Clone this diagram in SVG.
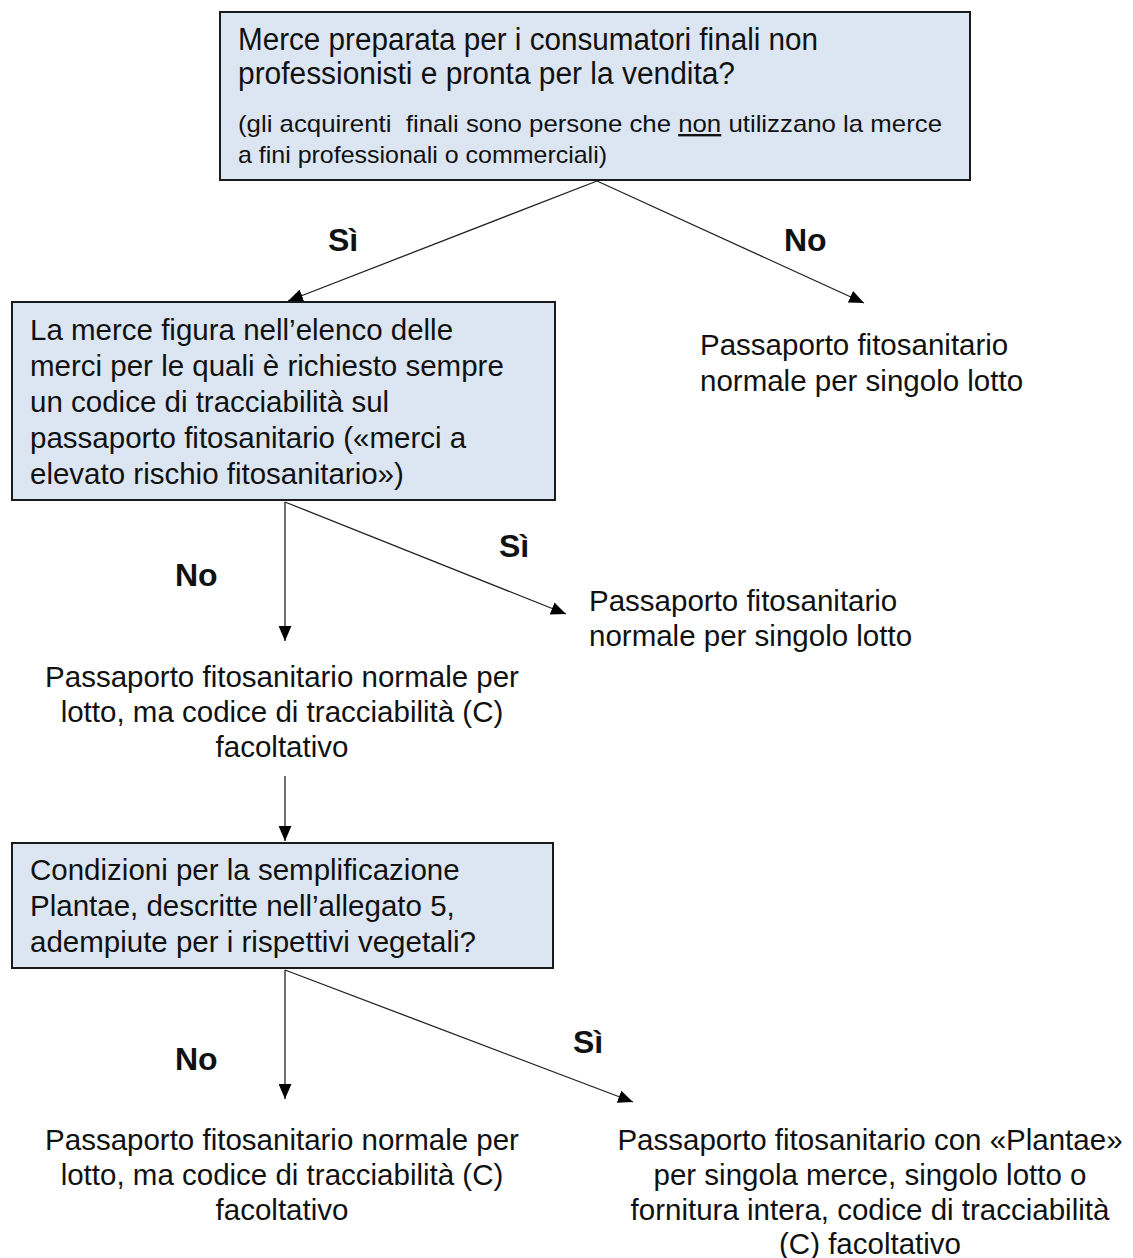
<svg xmlns="http://www.w3.org/2000/svg" width="1133" height="1258" viewBox="0 0 1133 1258">
<style>
  .box { fill: #DCE6F2; stroke: #1a1a1a; stroke-width: 2; }
  .t { font-family: "Liberation Sans", Arial, sans-serif; font-size: 29.5px; fill: #111; }
  .tn { font-family: "Liberation Sans", Arial, sans-serif; font-size: 31px; fill: #111; }
  .tc { font-family: "Liberation Sans", Arial, sans-serif; font-size: 29.5px; fill: #111; text-anchor: middle; }
  .ts { font-family: "Liberation Sans", Arial, sans-serif; font-size: 24px; fill: #111; }
  .lbl { font-family: "Liberation Sans", Arial, sans-serif; font-size: 32px; font-weight: bold; fill: #111; }
  .con { stroke: #222; stroke-width: 1.3; fill: none; marker-end: url(#ah); }
</style>
<defs>
  <marker id="ah" markerUnits="userSpaceOnUse" viewBox="0 0 14 12" refX="14" refY="6" markerWidth="15" markerHeight="13" orient="auto">
    <path d="M0,0 L14,6 L0,12 z" fill="#000"/>
  </marker>
</defs>
<rect width="1133" height="1258" fill="#fff"/>

<g id="connectors">
  <line class="con" x1="597" y1="181" x2="288" y2="301"/>
  <line class="con" x1="597" y1="181" x2="864" y2="303"/>
  <line class="con" x1="285" y1="502" x2="285" y2="641"/>
  <line class="con" x1="285" y1="502" x2="566" y2="614"/>
  <line class="con" x1="285" y1="776" x2="285" y2="841"/>
  <line class="con" x1="285" y1="970" x2="285" y2="1099"/>
  <line class="con" x1="285" y1="970" x2="633" y2="1102"/>
</g>

<g id="labels">
  <text class="lbl" x="328" y="251">Sì</text>
  <text class="lbl" x="784" y="251">No</text>
  <text class="lbl" x="175" y="586">No</text>
  <text class="lbl" x="499" y="557">Sì</text>
  <text class="lbl" x="175" y="1070">No</text>
  <text class="lbl" x="573" y="1053">Sì</text>
</g>

<g id="node-q1">
  <rect class="box" x="220" y="12" width="750" height="168"/>
  <text class="tn" x="238" y="50" textLength="580" lengthAdjust="spacingAndGlyphs">Merce preparata per i consumatori finali non</text>
  <text class="tn" x="238" y="84" textLength="497" lengthAdjust="spacingAndGlyphs">professionisti e pronta per la vendita?</text>
  <text class="ts" x="238" y="132" textLength="704" lengthAdjust="spacingAndGlyphs" xml:space="preserve">(gli acquirenti  finali sono persone che <tspan text-decoration="underline">non</tspan> utilizzano la merce</text>
  <text class="ts" x="238" y="163" textLength="369" lengthAdjust="spacingAndGlyphs">a fini professionali o commerciali)</text>
</g>

<g id="node-r1">
  <text class="t" x="700" y="355">Passaporto fitosanitario</text>
  <text class="t" x="700" y="391">normale per singolo lotto</text>
</g>

<g id="node-q2">
  <rect class="box" x="12" y="302" width="543" height="198"/>
  <text class="t" x="30" y="340">La merce figura nell’elenco delle</text>
  <text class="t" x="30" y="376">merci per le quali è richiesto sempre</text>
  <text class="t" x="30" y="412">un codice di tracciabilità sul</text>
  <text class="t" x="30" y="448">passaporto fitosanitario («merci a</text>
  <text class="t" x="30" y="484">elevato rischio fitosanitario»)</text>
</g>

<g id="node-r2">
  <text class="t" x="589" y="611">Passaporto fitosanitario</text>
  <text class="t" x="589" y="646">normale per singolo lotto</text>
</g>

<g id="node-r3">
  <text class="tc" x="282" y="687">Passaporto fitosanitario normale per</text>
  <text class="tc" x="282" y="722">lotto, ma codice di tracciabilità (C)</text>
  <text class="tc" x="282" y="757">facoltativo</text>
</g>

<g id="node-q3">
  <rect class="box" x="12" y="843" width="541" height="125"/>
  <text class="t" x="30" y="880">Condizioni per la semplificazione</text>
  <text class="t" x="30" y="916">Plantae, descritte nell’allegato 5,</text>
  <text class="t" x="30" y="952">adempiute per i rispettivi vegetali?</text>
</g>

<g id="node-r4">
  <text class="tc" x="282" y="1150">Passaporto fitosanitario normale per</text>
  <text class="tc" x="282" y="1185">lotto, ma codice di tracciabilità (C)</text>
  <text class="tc" x="282" y="1220">facoltativo</text>
</g>

<g id="node-r5">
  <text class="tc" x="870" y="1150">Passaporto fitosanitario con «Plantae»</text>
  <text class="tc" x="870" y="1185">per singola merce, singolo lotto o</text>
  <text class="tc" x="870" y="1220">fornitura intera, codice di tracciabilità</text>
  <text class="tc" x="870" y="1254">(C) facoltativo</text>
</g>
</svg>
